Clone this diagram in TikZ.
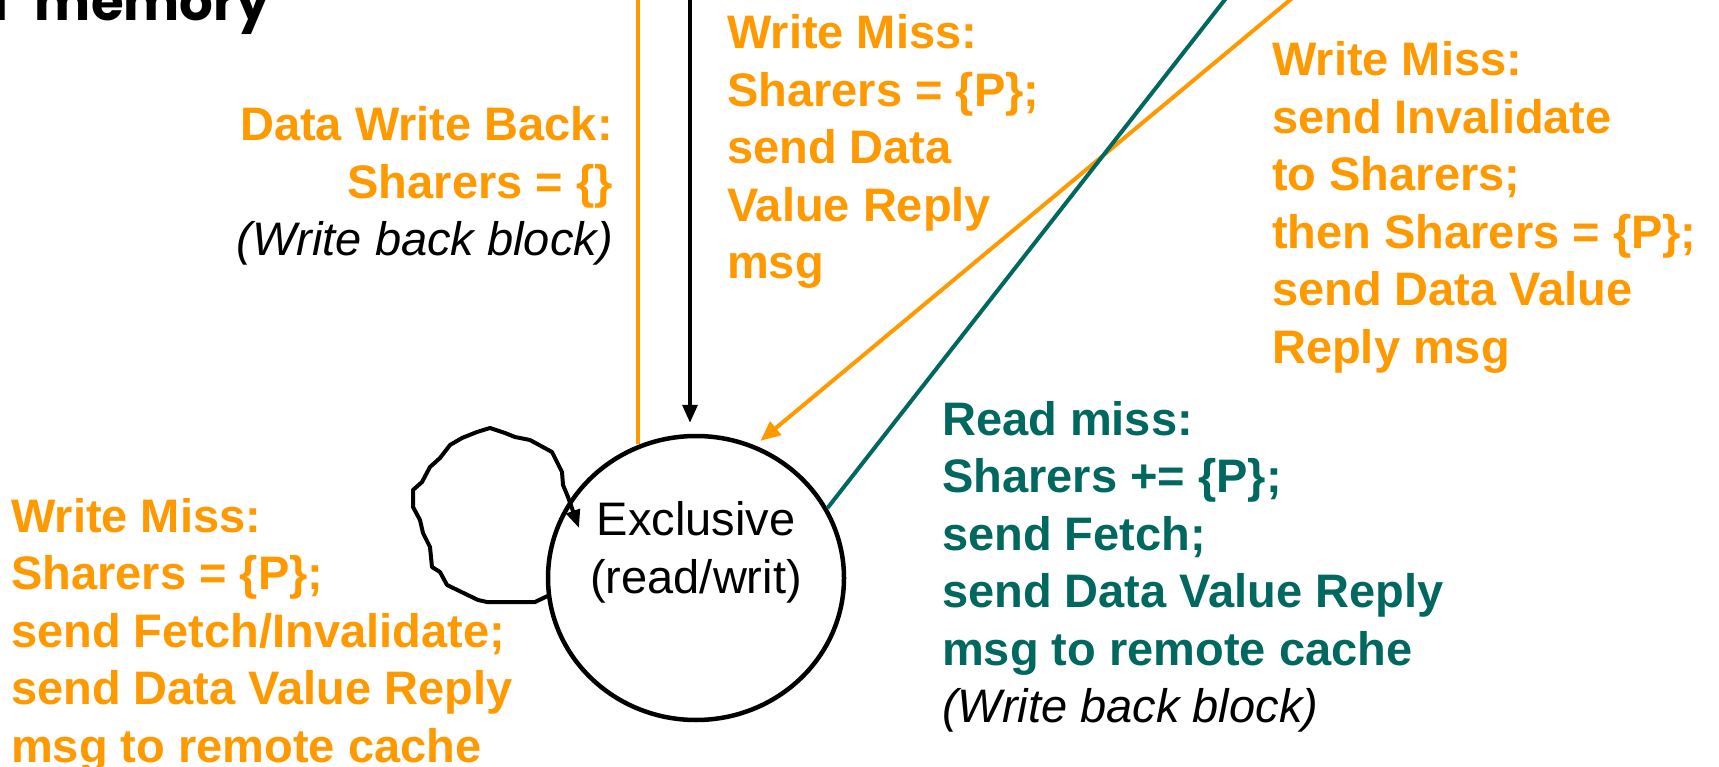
\documentclass[tikz,border=0pt]{standalone}
\usepackage{fontspec}
\setmainfont{Liberation Sans}
\newfontfamily\handfont{Poppins}
\usetikzlibrary{arrows.meta,shapes.geometric}
\definecolor{dirorange}{RGB}{255,153,0}
\definecolor{dirteal}{RGB}{0,104,94}
\tikzset{
  lbl/.style={inner sep=0pt, font=\fontsize{47}{57.5}\selectfont\bfseries},
  statebox/.style={draw=black, line width=4.5pt, ellipse, minimum width=296pt, minimum height=284pt, inner sep=0pt},
  blackarrow/.style={draw=black, line width=3.5pt, -{Triangle[length=18pt,width=15pt]}},
  orangeline/.style={draw=dirorange, line width=4pt},
  orangearrow/.style={draw=dirorange, line width=4pt, -{Triangle[length=20pt,width=17pt]}},
  tealline/.style={draw=dirteal, line width=4pt},
  freehand/.style={draw=black, line width=4pt, line join=round, line cap=round, -{Triangle[length=18pt,width=14pt]}},
}
\begin{document}
\begin{tikzpicture}[x=1pt,y=-1pt]
\fill[white] (0,0) rectangle (1719,767);
\useasboundingbox (0,0) rectangle (1719,767);

% heading, mostly above the page edge
\node[anchor=base east, inner sep=0pt, font=\handfont\fontsize{53}{56}\selectfont\bfseries] (title) at (270,21) {d\hspace{15pt} memory};

% the Exclusive state
\node[statebox] (excl) at (696,578) {};
\node[inner sep=0pt, anchor=base, font=\fontsize{47}{58}\selectfont] (excltxt) at (696,535)
  {\begin{tabular}[t]{@{}c@{}}Exclusive\\(read/writ)\end{tabular}};

% ends of transitions coming from states above
\coordinate (dwbTop) at (638,-10);
\coordinate (wmTop) at (690,-10);
\coordinate (wmDiag) at (1302,-10);
\coordinate (rmTop) at (1234,-12);

% connectors
\draw[orangeline] (excl.north -| dwbTop) ++(0,10) -- (dwbTop);
\draw[blackarrow, shorten >=11pt] (wmTop) -- (wmTop |- excl.north);
\draw[orangearrow, shorten >=7pt] (wmDiag) -- (excl.66);
\draw[tealline] (excl.28) -- (rmTop);

% self loop
\draw[freehand] (excl.187) -- (535,602) -- (487,602) -- (478,600) -- (447,585) -- (440,572)
  -- (432,567) -- (430,547) -- (423,533) -- (420,520) -- (413,507) -- (413,490)
  -- (422,482) -- (430,467) -- (440,458) -- (450,445) -- (462,438) -- (477,432)
  -- (490,428) -- (505,433) -- (515,437) -- (530,440) -- (552,452) -- (562,472)
  -- (563,485) -- (568,497) -- (579,528);

% transition labels
\node[lbl, text=dirorange, anchor=base east] (lblDWB) at (613,141)
  {\begin{tabular}[t]{@{}r@{}}Data Write Back:\\Sharers = \{\}\\{\color{black}\mdseries\itshape (Write back block)}\end{tabular}};

\node[lbl, text=dirorange, anchor=base west] (lblWMtop) at (727,49)
  {\begin{tabular}[t]{@{}l@{}}Write Miss:\\Sharers = \{P\};\\send Data\\Value Reply\\msg\end{tabular}};

\node[lbl, text=dirorange, anchor=base west] (lblWMright) at (1272,76)
  {\begin{tabular}[t]{@{}l@{}}Write Miss:\\send Invalidate\\to Sharers;\\then Sharers = \{P\};\\send Data Value\\Reply msg\end{tabular}};

\node[lbl, text=dirteal, anchor=base west] (lblRM) at (942,435)
  {\begin{tabular}[t]{@{}l@{}}Read miss:\\Sharers += \{P\};\\send Fetch;\\send Data Value Reply\\msg to remote cache\\{\color{black}\mdseries\itshape (Write back block)}\end{tabular}};

\node[lbl, text=dirorange, anchor=base west] (lblWMloop) at (11,532)
  {\begin{tabular}[t]{@{}l@{}}Write Miss:\\Sharers = \{P\};\\send Fetch/Invalidate;\\send Data Value Reply\\msg to remote cache\end{tabular}};
\end{tikzpicture}
\end{document}
